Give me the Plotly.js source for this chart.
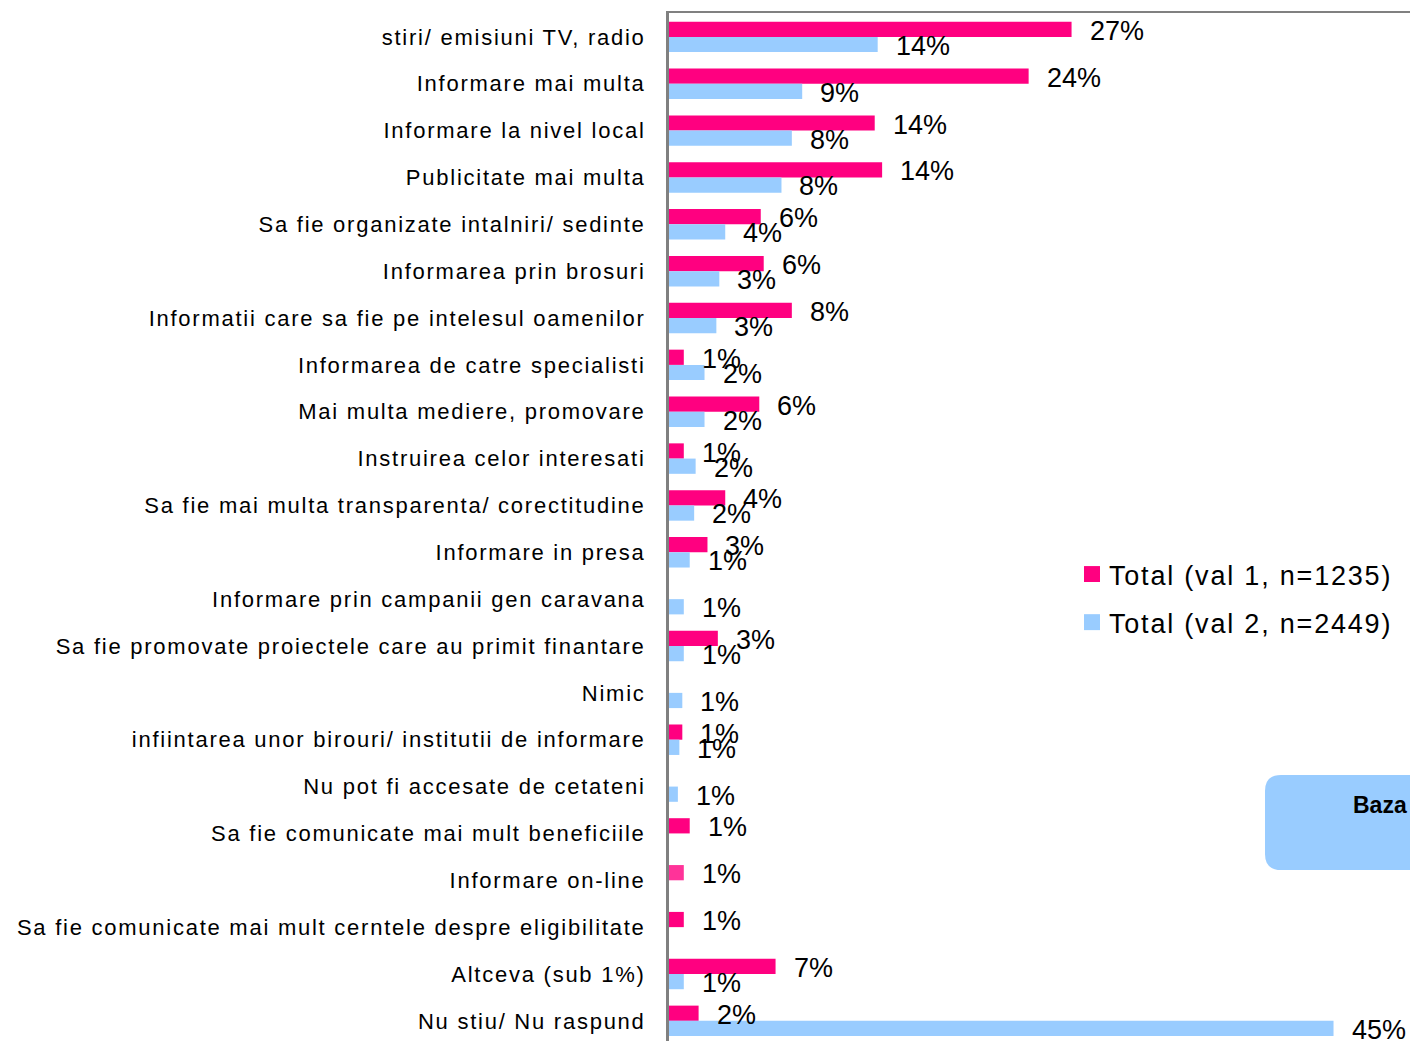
<!DOCTYPE html>
<html>
<head>
<meta charset="utf-8">
<script src="https://cdn.plot.ly/plotly-3.0.1.min.js"></script>
<style>
html,body{margin:0;padding:0;background:#fff;overflow:hidden}
.ytick text{letter-spacing:1.75px}
.legendtext{letter-spacing:1.8px}
.legendpoints path{transform:translate(23px,0px) scale(1.33)}
</style>
</head>
<body>
<div id="chart" style="width:1410px;height:1041px"></div>
<script>
const categories = [
  "stiri/ emisiuni TV, radio",
  "Informare mai multa",
  "Informare la nivel local",
  "Publicitate mai multa",
  "Sa fie organizate intalniri/ sedinte",
  "Informarea prin brosuri",
  "Informatii care sa fie pe intelesul oamenilor",
  "Informarea de catre specialisti",
  "Mai multa mediere, promovare",
  "Instruirea celor interesati",
  "Sa fie mai multa transparenta/ corectitudine",
  "Informare in presa",
  "Informare prin campanii gen caravana",
  "Sa fie promovate proiectele care au primit finantare",
  "Nimic",
  "infiintarea unor birouri/ institutii de informare",
  "Nu pot fi accesate de cetateni",
  "Sa fie comunicate mai mult beneficiile",
  "Informare on-line",
  "Sa fie comunicate mai mult cerntele despre eligibilitate",
  "Altceva (sub 1%)",
  "Nu stiu/ Nu raspund"
];
const val1 = [27.2, 24.3, 13.9, 14.4, 6.2, 6.4, 8.3, 1.0, 6.1, 1.0, 3.8, 2.6, null, 3.3, null, 0.9, null, 1.4, 1.0, 1.0, 7.2, 2.0];
const val2 = [14.1, 9.0, 8.3, 7.6, 3.8, 3.4, 3.2, 2.4, 2.4, 1.8, 1.7, 1.4, 1.0, 1.0, 0.9, 0.7, 0.6, null, null, null, 1.0, 44.9];
const seriesNames = ["Total (val 1, n=1235)", "Total (val 2, n=2449)"];

const PINK = "#FF0080", BLUE = "#99CCFF";
const pinkColors = categories.map(c => c === "Informare on-line" ? "#FF3399" : PINK);

const W = 1410, H = 1041, L = 669, T = 13;
const plotW = W - L, plotH = H - T;
const pxPerUnit = 14.8;

const traces = [
  {type: "bar", orientation: "h", name: seriesNames[0], y: categories, x: val1,
   marker: {color: pinkColors}, legendgroup: "a", hoverinfo: "x+y"},
  {type: "bar", orientation: "h", name: seriesNames[1], y: categories, x: val2,
   marker: {color: BLUE}, legendgroup: "b", hoverinfo: "x+y"}
];

const annotations = [];
function addLabels(vals, yshift) {
  vals.forEach((v, i) => {
    if (v === null) return;
    annotations.push({
      x: v, y: categories[i], xref: "x", yref: "y",
      text: Math.round(v) + "%", showarrow: false,
      xanchor: "left", yanchor: "middle", xshift: 16, yshift: yshift,
      font: {family: "Liberation Sans, Arial, sans-serif", size: 27, color: "#000"}
    });
  });
}
addLabels(val1, 6);
addLabels(val2, -9);

const px = x => (x - L) / plotW;
const py = y => 1 - (y - T) / plotH;
annotations.push({
  xref: "paper", yref: "paper", x: px(1351), y: py(805), xanchor: "left", yanchor: "middle",
  text: "<b>Baza</b>", showarrow: false,
  font: {family: "Liberation Sans, Arial, sans-serif", size: 23, color: "#000"}
});

const bx0 = px(1265), bx1 = px(1480), by0 = py(870), by1 = py(775);
const rx = 16 / plotW, ry = 16 / plotH;
const boxPath = `M ${bx0 + rx} ${by1} L ${bx1} ${by1} L ${bx1} ${by0} L ${bx0 + rx} ${by0} ` +
  `Q ${bx0} ${by0} ${bx0} ${by0 + ry} L ${bx0} ${by1 - ry} Q ${bx0} ${by1} ${bx0 + rx} ${by1} Z`;

const layout = {
  width: W, height: H,
  margin: {l: L, r: 0, t: T, b: 0, pad: 0},
  paper_bgcolor: "#fff", plot_bgcolor: "#fff",
  barmode: "group", bargap: 0.35, bargroupgap: 0,
  font: {family: "Liberation Sans, Arial, sans-serif", color: "#000"},
  xaxis: {
    range: [0, plotW / pxPerUnit], side: "top", showline: true, linecolor: "#808080", linewidth: 2,
    showgrid: false, zeroline: false, showticklabels: false, ticks: "", fixedrange: true
  },
  yaxis: {
    type: "category", range: [21.43, -0.51], showline: true, linecolor: "#808080", linewidth: 3,
    showgrid: false, zeroline: false, ticks: "", ticklabelstandoff: 16,
    tickfont: {family: "Liberation Sans, Arial, sans-serif", size: 22, color: "#000"}
  },
  showlegend: true,
  legend: {
    x: px(1069), y: py(550), xanchor: "left", yanchor: "top",
    traceorder: "grouped", tracegroupgap: 10,
    font: {family: "Liberation Sans, Arial, sans-serif", size: 27, color: "#000"},
    bgcolor: "rgba(0,0,0,0)", itemclick: false
  },
  shapes: [{type: "path", xref: "paper", yref: "paper", path: boxPath,
            fillcolor: BLUE, line: {width: 0}, layer: "below"}],
  annotations: annotations
};

Plotly.newPlot("chart", traces, layout, {displayModeBar: false, responsive: false});
</script>
</body>
</html>
